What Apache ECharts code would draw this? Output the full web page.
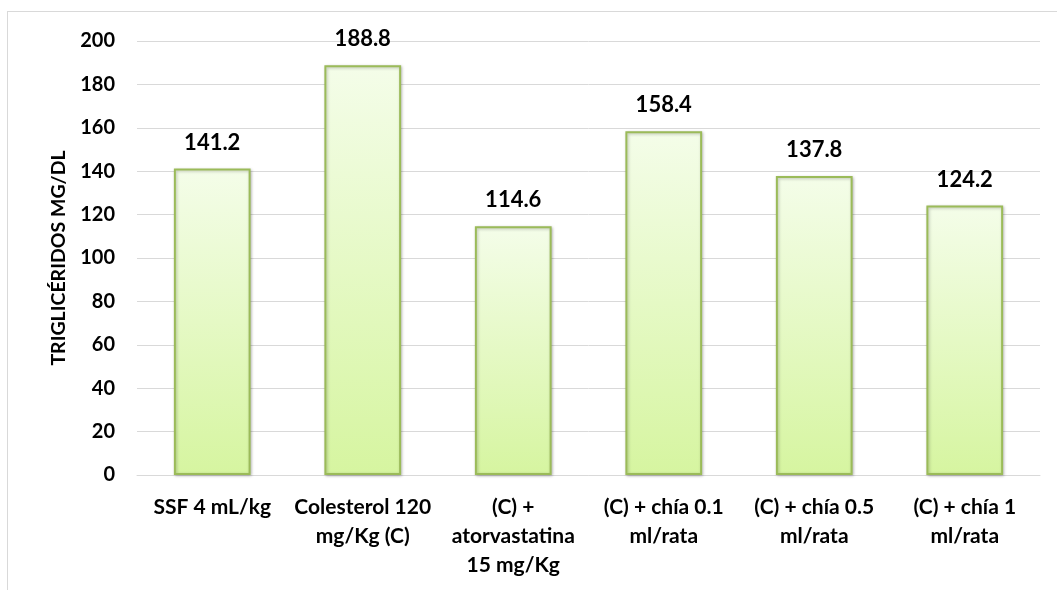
<!DOCTYPE html>
<html>
<head>
<meta charset="utf-8">
<script src="https://cdn.jsdelivr.net/npm/echarts@6/dist/echarts.min.js"></script>
<style>
    html, body { margin: 0; padding: 0; background: #fff; }
    #main { position: absolute; left: 0; top: 0; width: 1057px; height: 590px; }
    .frame { position: absolute; left: 7px; top: 11px; width: 1060px; height: 600px; border: 1px solid #d9d9d9; box-sizing: border-box; }
</style>
</head>
<body>
<div class="frame"></div>
<div id="main"></div>
<script>
// 数据
var categories = ['SSF 4 mL/kg', 'Colesterol 120\nmg/Kg (C)', '(C) +\natorvastatina\n15 mg/Kg', '(C) + chía 0.1\nml/rata', '(C) + chía 0.5\nml/rata', '(C) + chía 1\nml/rata'];
var values = [141.2, 188.8, 114.6, 158.4, 137.8, 124.2];
var yTicks = [0, 20, 40, 60, 80, 100, 120, 140, 160, 180, 200];

(function () {
    var myChart = echarts.init(document.getElementById('main'));
    var font = 'Lato, "Open Sans", sans-serif';

    var option = {
        animation: false,
        grid: {
            left: 137,
            right: 17,
            top: 41,
            bottom: 115
        },
        xAxis: {
            type: 'category',
            data: categories,
            axisTick: { show: false },
            axisLine: { lineStyle: { color: '#d9d9d9', width: 1 } },
            axisLabel: {
                color: '#000',
                fontFamily: font,
                fontWeight: 'bold',
                fontSize: 21,
                lineHeight: 29,
                margin: 18,
                interval: 0
            }
        },
        yAxis: {
            type: 'value',
            min: yTicks[0],
            max: yTicks[yTicks.length - 1],
            interval: 20,
            name: 'TRIGLICÉRIDOS MG/DL',
            nameLocation: 'middle',
            nameGap: 68,
            nameTextStyle: {
                color: '#000',
                fontFamily: font,
                fontWeight: 'bold',
                fontSize: 19.5
            },
            axisLine: { show: false },
            axisTick: { show: false },
            axisLabel: {
                color: '#000',
                fontFamily: font,
                fontWeight: 'bold',
                fontSize: 20,
                margin: 22
            },
            splitLine: { lineStyle: { color: '#d9d9d9', width: 1 } }
        },
        series: [
            {
                type: 'bar',
                data: values,
                barCategoryGap: '49%',
                itemStyle: {
                    color: {
                        type: 'linear',
                        x: 0, y: 0, x2: 0, y2: 1,
                        colorStops: [
                            { offset: 0, color: '#f4fde9' },
                            { offset: 1, color: '#d6f5a0' }
                        ]
                    },
                    borderColor: '#9bbb59',
                    borderWidth: 2,
                    shadowColor: 'rgba(0,0,0,0.25)',
                    shadowBlur: 3,
                    shadowOffsetX: 1,
                    shadowOffsetY: 1
                },
                label: {
                    show: true,
                    position: 'top',
                    distance: 15,
                    color: '#000',
                    fontFamily: font,
                    fontWeight: 'bold',
                    fontSize: 22,
                    formatter: function (p) { return p.value.toFixed(1); }
                }
            }
        ]
    };

    myChart.setOption(option);
})();
</script>
</body>
</html>
